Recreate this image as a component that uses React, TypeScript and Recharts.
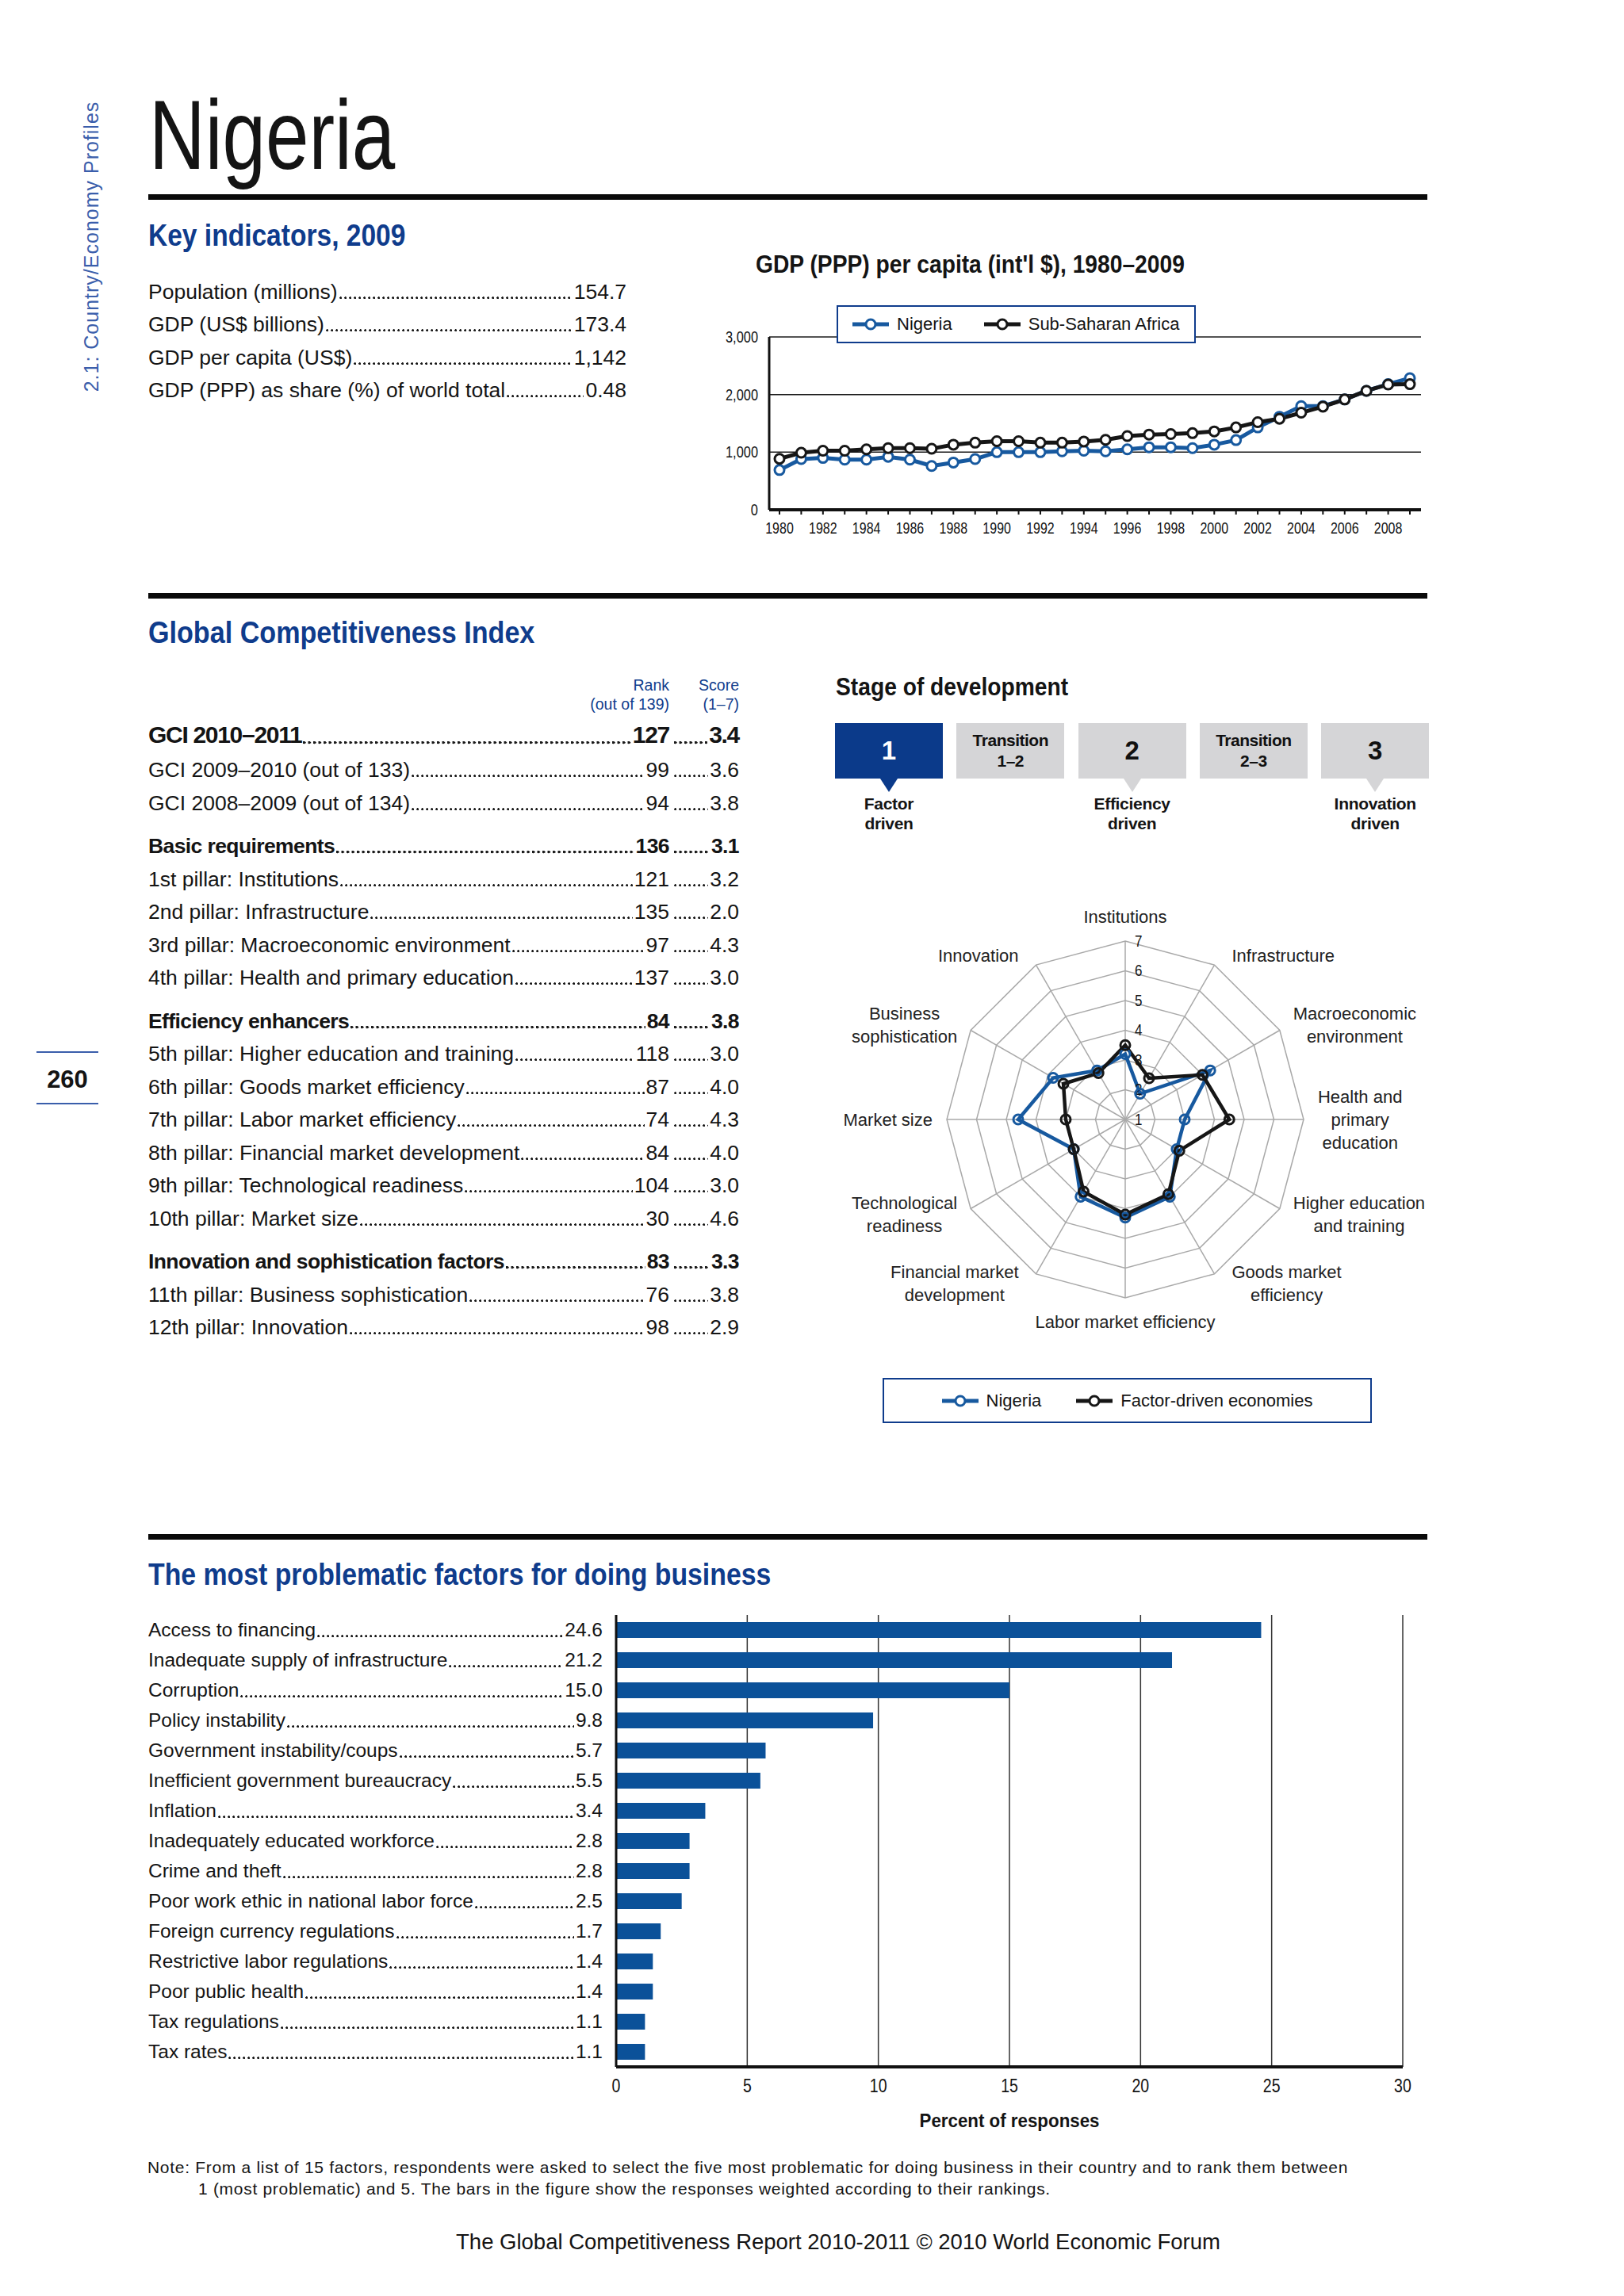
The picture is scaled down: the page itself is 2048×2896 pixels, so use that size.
import React from "react"
import {
  LineChart,
  Line,
  XAxis,
  YAxis,
  CartesianGrid,
  RadarChart,
  Radar,
  PolarGrid,
  PolarAngleAxis,
  PolarRadiusAxis,
  BarChart,
  Bar,
} from "recharts"

const SANS = "'Liberation Sans', Arial, sans-serif"
const NAVY = "#0f3c8c"
const SERIES_BLUE = "#17599f"
const INK = "#141414"

// key indicators
const keyLabels = ["Population (millions)", "GDP (US$ billions)", "GDP per capita (US$)", "GDP (PPP) as share (%) of world total"]
const keyValues = ["154.7", "173.4", "1,142", "0.48"]

// GDP (PPP) per capita
const years = [
  1980, 1981, 1982, 1983, 1984, 1985, 1986, 1987, 1988, 1989,
  1990, 1991, 1992, 1993, 1994, 1995, 1996, 1997, 1998, 1999,
  2000, 2001, 2002, 2003, 2004, 2005, 2006, 2007, 2008, 2009,
]
const nigeriaGdp = [
  690, 880, 900, 870, 870, 920, 870, 760, 820, 880,
  1000, 1000, 1000, 1015, 1025, 1015, 1050, 1085, 1085, 1070,
  1130, 1210, 1430, 1615, 1800, 1800, 1915, 2065, 2180, 2285,
]
const ssaGdp = [
  885, 990, 1025, 1025, 1050, 1070, 1070, 1060, 1130, 1165,
  1190, 1190, 1165, 1165, 1185, 1215, 1280, 1305, 1315, 1330,
  1360, 1430, 1520, 1580, 1685, 1790, 1915, 2065, 2175, 2180,
]
const gdpTicks = [0, 1000, 2000, 3000]

// GCI table
const gciLabels = [
  "GCI 2010–2011",
  "GCI 2009–2010 (out of 133)",
  "GCI 2008–2009 (out of 134)",
  "Basic requirements",
  "1st pillar: Institutions",
  "2nd pillar: Infrastructure",
  "3rd pillar: Macroeconomic environment",
  "4th pillar: Health and primary education",
  "Efficiency enhancers",
  "5th pillar: Higher education and training",
  "6th pillar: Goods market efficiency",
  "7th pillar: Labor market efficiency",
  "8th pillar: Financial market development",
  "9th pillar: Technological readiness",
  "10th pillar: Market size",
  "Innovation and sophistication factors",
  "11th pillar: Business sophistication",
  "12th pillar: Innovation",
]
const gciRanks = ["127", "99", "94", "136", "121", "135", "97", "137", "84", "118", "87", "74", "84", "104", "30", "83", "76", "98"]
const gciScores = ["3.4", "3.6", "3.8", "3.1", "3.2", "2.0", "4.3", "3.0", "3.8", "3.0", "4.0", "4.3", "4.0", "3.0", "4.6", "3.3", "3.8", "2.9"]
const gciGroupRows = [3, 8, 15]

// stage of development
const stageTitles = ["1", "Transition\n1–2", "2", "Transition\n2–3", "3"]
const stageNames = ["Factor\ndriven", "", "Efficiency\ndriven", "", "Innovation\ndriven"]
const currentStage = 0

// radar
const pillars = [
  "Institutions", "Infrastructure", "Macroeconomic environment", "Health and primary education",
  "Higher education and training", "Goods market efficiency", "Labor market efficiency",
  "Financial market development", "Technological readiness", "Market size",
  "Business sophistication", "Innovation",
]
const pillarLines = [
  ["Institutions"], ["Infrastructure"], ["Macroeconomic", "environment"], ["Health and", "primary", "education"],
  ["Higher education", "and training"], ["Goods market", "efficiency"], ["Labor market efficiency"],
  ["Financial market", "development"], ["Technological", "readiness"], ["Market size"],
  ["Business", "sophistication"], ["Innovation"],
]
const nigeriaScores = [3.2, 2.0, 4.3, 3.0, 3.0, 4.0, 4.3, 4.0, 3.0, 4.6, 3.8, 2.9]
const factorScores = [3.5, 2.6, 4.0, 4.5, 3.1, 3.9, 4.2, 3.8, 3.0, 3.0, 3.4, 2.8]

// problematic factors
const factors = [
  "Access to financing", "Inadequate supply of infrastructure", "Corruption", "Policy instability",
  "Government instability/coups", "Inefficient government bureaucracy", "Inflation",
  "Inadequately educated workforce", "Crime and theft", "Poor work ethic in national labor force",
  "Foreign currency regulations", "Restrictive labor regulations", "Poor public health",
  "Tax regulations", "Tax rates",
]
const factorValues = [24.6, 21.2, 15.0, 9.8, 5.7, 5.5, 3.4, 2.8, 2.8, 2.5, 1.7, 1.4, 1.4, 1.1, 1.1]
const percentTicks = [0, 5, 10, 15, 20, 25, 30]

const gdpData = years.map((y, i) => ({ year: y, nigeria: nigeriaGdp[i], ssa: ssaGdp[i] }))
const radarData = pillars.map((p, i) => ({ pillar: p, nigeria: nigeriaScores[i], factor: factorScores[i] }))
const barData = factors.map((f, i) => ({ factor: f, value: factorValues[i] }))

const RCX = 379
const RCY = 282

let ctx: CanvasRenderingContext2D | null = null
function textWidth(s: string, font: string) {
  if (!ctx) ctx = document.createElement("canvas").getContext("2d")
  if (!ctx) return s.length * 11
  ctx.font = font
  return ctx.measureText(s).width
}

// dotted leader drawn as a background so that it sits on the text baseline
function leader(h: number, fs: number, bold = false): React.CSSProperties {
  const base = Math.round(h / 2 + fs * 0.35)
  return {
    flex: 1,
    minWidth: 0,
    alignSelf: "stretch",
    margin: "0 2px",
    backgroundImage: `radial-gradient(circle at 1.6px 1.6px, #1a1a1a ${bold ? 1.7 : 1.25}px, transparent ${bold ? 2.0 : 1.6}px)`,
    backgroundSize: `${bold ? 6.5 : 6}px 4px`,
    backgroundRepeat: "repeat-x",
    backgroundPosition: `0 ${base - 3}px`,
  }
}

function Head({ x, cy, size, scale = 1, origin = "left", style, children }: any) {
  const h = Math.round(size * 1.25)
  return (
    <div
      style={{
        position: "absolute", left: x, top: cy - h / 2, height: h, lineHeight: `${h}px`, fontSize: size, fontFamily: SANS,
        whiteSpace: "nowrap", transform: `scaleX(${scale})`, transformOrigin: `${origin} center`, ...style,
      }}
    >
      {children}
    </div>
  )
}

function Rule({ y }: { y: number }) {
  return <div style={{ position: "absolute", left: 187, top: y, width: 1613, height: 7, background: "#0a0a0a" }} />
}

function Marker({ color }: { color: string }) {
  return (
    <svg width={46} height={18} style={{ display: "block" }}>
      <line x1={0} x2={46} y1={9} y2={9} stroke={color} strokeWidth={5} />
      <circle cx={23} cy={9} r={6} fill="#fff" stroke={color} strokeWidth={3} />
    </svg>
  )
}

// condensed svg tick text
function CondTick({ x, y, text, fs, sx, anchor, vpos }: any) {
  const ty = vpos === "top" ? y + fs * 0.78 : y + fs * 0.35
  return (
    <text
      x={x} y={ty} textAnchor={anchor} fontFamily={SANS} fontSize={fs} fill={INK}
      transform={`translate(${x} 0) scale(${sx} 1) translate(${-x} 0)`}
    >
      {text}
    </text>
  )
}

function AngleTick(props: any) {
  const { x, y, index } = props
  const lines = pillarLines[index] || [String(props.payload?.value)]
  const fs = 22
  const lh = 29
  const dx = x - RCX
  const dy = y - RCY
  const r = Math.hypot(dx, dy) || 1
  const ux = dx / r
  const uy = dy / r
  const w = Math.max(...lines.map((l: string) => textWidth(l, `${fs}px ${SANS}`)))
  let lx = x
  let ly = y
  if (Math.abs(ux) < 0.01) {
    ly = y + uy * ((lines.length * lh) / 2 + 8)
  } else {
    const side = ux > 0 ? 1 : -1
    const gap = Math.abs(uy) > 0.8 ? 18 : 10
    lx = x + side * (gap + w / 2)
    ly = y + uy * 6
  }
  return (
    <text textAnchor="middle" fontFamily={SANS} fontSize={fs} fill="#222">
      {lines.map((l: string, i: number) => (
        <tspan key={i} x={lx} y={ly + (i - (lines.length - 1) / 2) * lh + fs * 0.35}>
          {l}
        </tspan>
      ))}
    </text>
  )
}

function RadiusTick(props: any) {
  const { x, y, payload } = props
  return <CondTick x={x + 12} y={y} text={payload.value} fs={20} sx={0.85} anchor="start" />
}

function FactorTick(props: any) {
  const { y, index } = props
  const h = 38
  const fs = 24.5
  return (
    <foreignObject x={17} y={y - h / 2} width={573} height={h}>
      <div style={{ display: "flex", height: h, lineHeight: `${h}px`, fontFamily: SANS, fontSize: fs, color: INK }}>
        <span style={{ whiteSpace: "nowrap" }}>{factors[index]}</span>
        <span style={leader(h, fs)} />
        <span>{factorValues[index].toFixed(1)}</span>
      </div>
    </foreignObject>
  )
}

function GciTable() {
  const centers: number[] = []
  let c = 927
  gciLabels.forEach((_, i) => {
    if (i === 1) c += 44
    else if (i > 1) c += 41.5 + (gciGroupRows.includes(i) ? 13 : 0)
    centers.push(c)
  })
  return (
    <>
      {gciLabels.map((label, i) => {
        const top = i === 0
        const bold = top || gciGroupRows.includes(i)
        const h = top ? 44 : 40
        const fs = top ? 30 : 26.5
        return (
          <div
            key={label}
            style={{
              position: "absolute", left: 187, top: centers[i] - h / 2, width: 745, height: h, lineHeight: `${h}px`,
              display: "flex", fontFamily: SANS, fontSize: fs, fontWeight: bold ? 700 : 400, color: INK,
              letterSpacing: top ? -1.3 : bold ? -0.6 : 0,
            }}
          >
            <span style={{ whiteSpace: "nowrap" }}>{label}</span>
            <span style={leader(h, fs, bold)} />
            <span>{gciRanks[i]}</span>
            <span style={{ width: 88, display: "flex" }}>
              <span style={{ ...leader(h, fs, bold), marginLeft: 6 }} />
              <span>{gciScores[i]}</span>
            </span>
          </div>
        )
      })}
    </>
  )
}

function Stages() {
  return (
    <>
      {stageTitles.map((t, i) => {
        const left = 1053 + i * 153.3
        const on = i === currentStage
        const fill = on ? "#0b3a8a" : "#d5d5d7"
        const parts = t.split("\n")
        return (
          <React.Fragment key={i}>
            <div
              style={{
                position: "absolute", left, top: 912, width: 136, height: 70, background: fill,
                color: on ? "#fff" : "#111", fontFamily: SANS, fontWeight: 700, textAlign: "center",
                display: "flex", flexDirection: "column", justifyContent: "center",
              }}
            >
              {parts.length === 1 ? (
                <div style={{ fontSize: 33, lineHeight: "40px" }}>{parts[0]}</div>
              ) : (
                parts.map((p) => <div key={p} style={{ fontSize: 21, lineHeight: "26px", letterSpacing: -0.5 }}>{p}</div>)
              )}
            </div>
            {stageNames[i] && (
              <>
                <div
                  style={{
                    position: "absolute", left: left + 68 - 11, top: 982, width: 0, height: 0,
                    borderLeft: "11px solid transparent", borderRight: "11px solid transparent", borderTop: `17px solid ${fill}`,
                  }}
                />
                <div style={{ position: "absolute", left: left - 20, top: 1001, width: 176, textAlign: "center", fontFamily: SANS, fontWeight: 700, fontSize: 21, lineHeight: "25px", color: INK, letterSpacing: -0.3 }}>
                  {stageNames[i].split("\n").map((p) => <div key={p}>{p}</div>)}
                </div>
              </>
            )}
          </React.Fragment>
        )
      })}
    </>
  )
}

export default function App() {
  return (
    <div style={{ position: "absolute", left: 0, top: 0, width: 2048, height: 2896, background: "#fff", color: INK, overflow: "hidden", fontFamily: SANS }}>
      {/* side caption */}
      <div
        style={{
          position: "absolute", left: 115 - 200, top: 311 - 16, width: 400, height: 32, lineHeight: "32px", textAlign: "center",
          transform: "rotate(-90deg)", fontSize: 25, letterSpacing: 1, color: "#3a5eab",
        }}
      >
        2.1: Country/Economy Profiles
      </div>

      {/* page number */}
      <div style={{ position: "absolute", left: 46, top: 1326, width: 78, height: 2, background: "#3a5eab" }} />
      <Head x={46} cy={1361} size={31} style={{ width: 78, textAlign: "center", fontWeight: 700 }}>260</Head>
      <div style={{ position: "absolute", left: 46, top: 1391, width: 78, height: 2, background: "#3a5eab" }} />

      <Head x={188} cy={170} size={124} scale={0.79}>Nigeria</Head>
      <Rule y={245} />

      {/* key indicators */}
      <Head x={187} cy={296} size={39} scale={0.86} style={{ fontWeight: 700, color: NAVY }}>Key indicators, 2009</Head>
      {keyLabels.map((l, i) => (
        <div key={l} style={{ position: "absolute", left: 187, top: 348 + i * 41.3, width: 603, height: 40, lineHeight: "40px", display: "flex", fontSize: 26.5 }}>
          <span style={{ whiteSpace: "nowrap" }}>{l}</span>
          <span style={leader(40, 26.5)} />
          <span>{keyValues[i]}</span>
        </div>
      ))}

      {/* GDP chart */}
      <Head x={953} cy={333} size={31} scale={0.91} style={{ fontWeight: 700 }}>GDP (PPP) per capita (int'l $), 1980–2009</Head>
      <div style={{ position: "absolute", left: 900, top: 380, width: 920, height: 310 }}>
        <LineChart width={920} height={310} data={gdpData} margin={{ top: 45, right: 28, left: 10, bottom: 17 }}>
          <CartesianGrid vertical={false} stroke="#1a1a1a" strokeWidth={1.5} />
          <XAxis
            dataKey="year" scale="point" padding={{ left: 13, right: 14 }} interval={0} height={30}
            axisLine={{ stroke: "#111", strokeWidth: 4 }} tickLine={{ stroke: "#111", strokeWidth: 2 }} tickSize={6} tickMargin={8}
            tick={(p: any) => <CondTick x={p.x} y={p.y} text={p.payload.value % 2 === 0 ? String(p.payload.value) : ""} fs={20} sx={0.8} anchor="middle" vpos="top" />}
          />
          <YAxis
            domain={[0, 3000]} ticks={gdpTicks} width={60} tickLine={false} tickMargin={8}
            axisLine={{ stroke: "#111", strokeWidth: 3 }}
            tick={(p: any) => <CondTick x={p.x} y={p.y} text={Number(p.payload.value).toLocaleString("en-US")} fs={20} sx={0.82} anchor="end" />}
          />
          <Line dataKey="nigeria" stroke={SERIES_BLUE} strokeWidth={5} dot={{ r: 6, fill: "#fff", stroke: SERIES_BLUE, strokeWidth: 3 }} isAnimationActive={false} />
          <Line dataKey="ssa" stroke="#161616" strokeWidth={5} dot={{ r: 6, fill: "#fff", stroke: "#161616", strokeWidth: 3 }} isAnimationActive={false} />
        </LineChart>
      </div>
      <div
        style={{
          position: "absolute", left: 1055, top: 385, width: 453, height: 48, boxSizing: "border-box", border: `2px solid ${NAVY}`, background: "#fff",
          display: "flex", alignItems: "center", gap: 10, paddingLeft: 18, fontSize: 22,
        }}
      >
        <Marker color={SERIES_BLUE} />
        <span style={{ marginRight: 30 }}>Nigeria</span>
        <Marker color="#161616" />
        <span>Sub-Saharan Africa</span>
      </div>

      <Rule y={748} />

      {/* GCI */}
      <Head x={187} cy={797} size={39} scale={0.875} style={{ fontWeight: 700, color: NAVY }}>Global Competitiveness Index</Head>
      <div style={{ position: "absolute", left: 700, top: 852, width: 144, textAlign: "right", fontSize: 19.5, lineHeight: "24px", color: NAVY }}>
        <div>Rank</div>
        <div>(out of 139)</div>
      </div>
      <div style={{ position: "absolute", left: 852, top: 852, width: 80, textAlign: "right", fontSize: 19.5, lineHeight: "24px", color: NAVY }}>
        <div>Score</div>
        <div>(1–7)</div>
      </div>
      <GciTable />

      {/* stage of development */}
      <Head x={1054} cy={866} size={31} scale={0.91} style={{ fontWeight: 700 }}>Stage of development</Head>
      <Stages />

      {/* radar */}
      <div style={{ position: "absolute", left: 1040, top: 1130, width: 780, height: 560 }}>
        <RadarChart width={780} height={560} cx={RCX} cy={RCY} outerRadius={225} data={radarData} startAngle={90} endAngle={-270}>
          <PolarGrid gridType="polygon" stroke="#a9a9a9" strokeWidth={1.5} />
          <PolarAngleAxis dataKey="pillar" tick={<AngleTick />} tickLine={false} axisLine={false} />
          <PolarRadiusAxis domain={[1, 7]} tickCount={7} angle={90} axisLine={false} tick={<RadiusTick />} />
          <Radar dataKey="nigeria" stroke={SERIES_BLUE} strokeWidth={4.5} fill="none" fillOpacity={0} dot={{ r: 6, fill: "#fff", stroke: SERIES_BLUE, strokeWidth: 3 }} isAnimationActive={false} />
          <Radar dataKey="factor" stroke="#161616" strokeWidth={4.5} fill="none" fillOpacity={0} dot={{ r: 6, fill: "#fff", stroke: "#161616", strokeWidth: 3 }} isAnimationActive={false} />
        </RadarChart>
      </div>
      <div
        style={{
          position: "absolute", left: 1113, top: 1738, width: 617, height: 57, boxSizing: "border-box", border: `2px solid ${NAVY}`,
          display: "flex", alignItems: "center", justifyContent: "center", gap: 10, fontSize: 22,
        }}
      >
        <Marker color={SERIES_BLUE} />
        <span style={{ marginRight: 34 }}>Nigeria</span>
        <Marker color="#161616" />
        <span>Factor-driven economies</span>
      </div>

      <Rule y={1935} />

      {/* problematic factors */}
      <Head x={187} cy={1985} size={39} scale={0.867} style={{ fontWeight: 700, color: NAVY }}>The most problematic factors for doing business</Head>
      <div style={{ position: "absolute", left: 170, top: 2020, width: 1630, height: 680 }}>
        <BarChart layout="vertical" width={1630} height={680} data={barData} margin={{ top: 17, right: 31, left: 0, bottom: 53 }}>
          <CartesianGrid horizontal={false} stroke="#333" strokeWidth={1.5} />
          <XAxis
            type="number" domain={[0, 30]} ticks={percentTicks} height={40} tickLine={false} tickMargin={8}
            axisLine={{ stroke: "#111", strokeWidth: 4 }}
            tick={(p: any) => <CondTick x={p.x} y={p.y} text={String(p.payload.value)} fs={23} sx={0.85} anchor="middle" vpos="top" />}
          />
          <YAxis type="category" dataKey="factor" width={607} interval={0} tickLine={false} axisLine={{ stroke: "#111", strokeWidth: 3 }} tick={<FactorTick />} />
          <Bar dataKey="value" fill="#0b5199" barSize={20} isAnimationActive={false} />
        </BarChart>
      </div>
      <Head x={1073} cy={2675} size={24} scale={0.93} origin="center" style={{ width: 400, textAlign: "center", fontWeight: 700 }}>Percent of responses</Head>

      {/* notes */}
      <div style={{ position: "absolute", left: 186, top: 2720, width: 1700, fontSize: 21, lineHeight: "27px", letterSpacing: 0.7, color: INK, whiteSpace: "nowrap" }}>
        <div>Note: From a list of 15 factors, respondents were asked to select the five most problematic for doing business in their country and to rank them between</div>
        <div style={{ paddingLeft: 64 }}>1 (most problematic) and 5. The bars in the figure show the responses weighted according to their rankings.</div>
      </div>
      <Head x={0} cy={2828} size={27.5} origin="center" style={{ width: 2114, textAlign: "center" }}>
        The Global Competitiveness Report 2010-2011 © 2010 World Economic Forum
      </Head>
    </div>
  )
}
